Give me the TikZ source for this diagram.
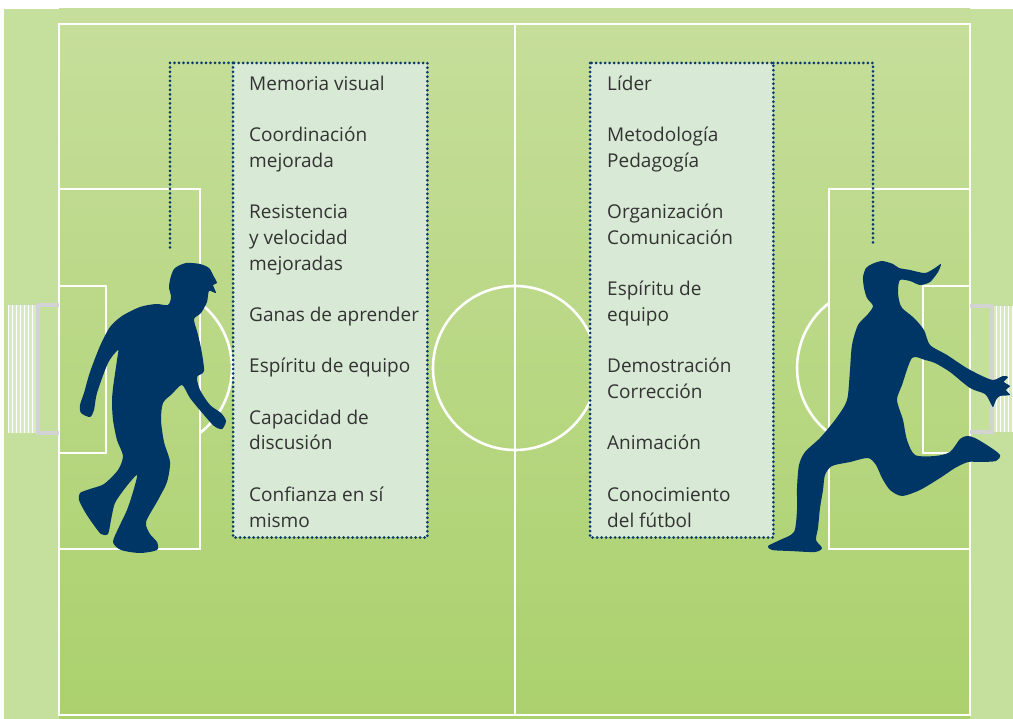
\documentclass[tikz,border=0pt]{standalone}
\usepackage{fontspec}
\setmainfont{Open Sans}
\usetikzlibrary{calc,positioning}
\definecolor{band}{HTML}{C5DF9D}
\definecolor{fieldtop}{HTML}{C6DE9B}
\definecolor{fieldbot}{HTML}{ABD16D}
\definecolor{boxfill}{HTML}{D8EAD5}
\definecolor{navy}{HTML}{0B3A6C}
\definecolor{shirt}{HTML}{003665}
\definecolor{post}{HTML}{D3D3D3}
\definecolor{ink}{HTML}{333333}
\tikzset{
    mark line/.style = {draw=white, line width=2.6pt},
    goalpost/.style = {draw=post, line width=4pt},
    netline/.style = {draw=white, line width=1pt},
    listbox/.style = {rectangle, fill=boxfill, anchor=north west,
        minimum width=194, minimum height=474, inner sep=0},
    listtext/.style = {anchor=north west, align=left, inner sep=0,
        text=ink, font=\fontsize{19}{25.7}\selectfont},
    dotline/.style = {draw=navy, line width=3pt, line cap=round,
        dash pattern=on 0pt off 4.5pt},
    player/.style = {fill=shirt}
}
\begin{document}
\begin{tikzpicture}[x=1pt,y=-1pt]
                \useasboundingbox (0,0) rectangle (1013,719);
                \fill[white] (0,0) rectangle (1013,719);
                % pitch
                \fill[band] (4,9) rectangle (1013,719);
                \shade[top color=fieldtop, bottom color=fieldbot] (59,9) rectangle (970,719);
                \draw[mark line] (59,24) rectangle (970,715);
                \draw[mark line] (515,24) -- (515,715);
                \draw[mark line] (515,368) circle (82);
                \draw[mark line] (59,189) rectangle (200,549);
                \draw[mark line] (59,286) rectangle (106,453);
                \draw[mark line] (200,303) arc[start angle=-52.4, end angle=52.4, radius=82];
                \draw[mark line] (970,189) rectangle (829,549);
                \draw[mark line] (970,286) rectangle (923,453);
                \draw[mark line] (829,303) arc[start angle=232.4, end angle=127.6, radius=82];
                % goals
                \fill[white,opacity=0.35] (8,305) rectangle (37,433);
                \draw[netline] (8,305) grid[step=4] (37,433);
                \draw[goalpost] (59,305) -- (38,305) -- (38,433) -- (59,433);
                \fill[white,opacity=0.35] (993,306) rectangle (1013,432);
                \draw[netline] (993,306) grid[step=4] (1013,432);
                \draw[goalpost] (970,306) -- (992,306) -- (992,432) -- (970,432);
                % lists
                \node[listbox] (lbox) at (233,63) {};
                \node[listbox, minimum width=183] (rbox) at (590,63) {};
                \draw[dotline] (lbox.north west) rectangle (lbox.south east);
                \draw[dotline] (rbox.north west) rectangle (rbox.south east);
                \node[listtext] (ltext) at ($(lbox.north west)+(16,9)$) {\strut Memoria visual\\[25.7pt]
                    Coordinación\\mejorada\\[25.7pt]
                    Resistencia\\y velocidad\\mejoradas\\[25.7pt]
                    Ganas de aprender\\[25.7pt]
                    Espíritu de equipo\\[25.7pt]
                    Capacidad de\\discusión\\[25.7pt]
                    Confianza en sí\\mismo};
                \node[listtext] (rtext) at ($(rbox.north west)+(17,9)$) {\strut Líder\\[25.7pt]
                    Metodología\\Pedagogía\\[25.7pt]
                    Organización\\Comunicación\\[25.7pt]
                    Espíritu de\\equipo\\[25.7pt]
                    Demostración\\Corrección\\[25.7pt]
                    Animación\\[25.7pt]
                    Conocimiento\\del fútbol};
                \coordinate (lhead) at (170,250);
                \coordinate (rhead) at (873,243);
                \draw[dotline] (lbox.north west) -| (lhead);
                \draw[dotline] (rbox.north east) -| (rhead);
                % players
                \fill[player] plot[smooth cycle, tension=0.45] coordinates {
                    (175,268) (186,263) (200,264) (209,268) (213,275) (217,283) (213,285)
                    (216,293) (209,291) (207,302) (201,313) (194,319) (197,331) (201,348)
                    (204,371) (197,377) (200,390) (210,405) (221,413) (226,421) (222,429)
                    (214,426) (204,415) (190,398) (182,385) (172,394) (163,403) (161,420)
                    (164,442) (170,462) (167,482) (158,500) (146,522) (150,534) (157,542)
                    (157,550) (140,553) (121,550) (113,542) (119,527) (127,510) (133,492)
                    (137,475) (126,487) (115,503) (111,520) (108,534) (101,534) (93,524)
                    (85,512) (79,500) (80,493) (90,489) (104,484) (118,470) (123,456)
                    (117,440) (113,420) (112,402) (113,388) (117,360) (118,350) (108,363)
                    (97,393) (94,410) (90,417) (81,413) (80,405) (84,393) (90,372)
                    (100,346) (110,327) (122,316) (140,307) (156,304) (168,305) (171,297)
                    (169,287) (171,276)};
                \fill[player] plot[smooth cycle, tension=0.45] coordinates {
                    (872,264) (882,261) (893,264) (899,268) (910,270) (925,273) (935,268)
                    (941,264) (938,272) (930,282) (920,285) (910,281) (900,280) (898,290)
                    (899,300) (902,308) (914,318) (924,330) (930,345) (947,355) (965,367)
                    (980,375) (993,380) (1003,376) (1008,377) (1004,382) (1010,386)
                    (1006,390) (1010,395) (1000,396) (996,400) (993,407) (990,402)
                    (985,394) (970,388) (950,372) (935,363) (925,360) (912,358) (902,385)
                    (897,400) (903,420) (907,440) (915,455) (935,456) (950,452) (960,439)
                    (967,436) (975,438) (990,447) (1000,455) (996,461) (980,462) (968,462)
                    (955,468) (940,478) (920,490) (902,496) (890,490) (882,478) (876,465)
                    (868,458) (850,462) (832,466) (825,475) (823,490) (820,508) (818,528)
                    (816,540) (822,548) (815,552) (790,551) (772,550) (768,546) (780,540)
                    (794,532) (797,510) (797,488) (799,465) (805,452) (820,438) (835,420)
                    (845,405) (848,395) (850,370) (852,345) (858,325) (868,314) (873,306)
                    (867,298) (864,288) (863,277) (866,268)};
            \end{tikzpicture}
\end{document}
